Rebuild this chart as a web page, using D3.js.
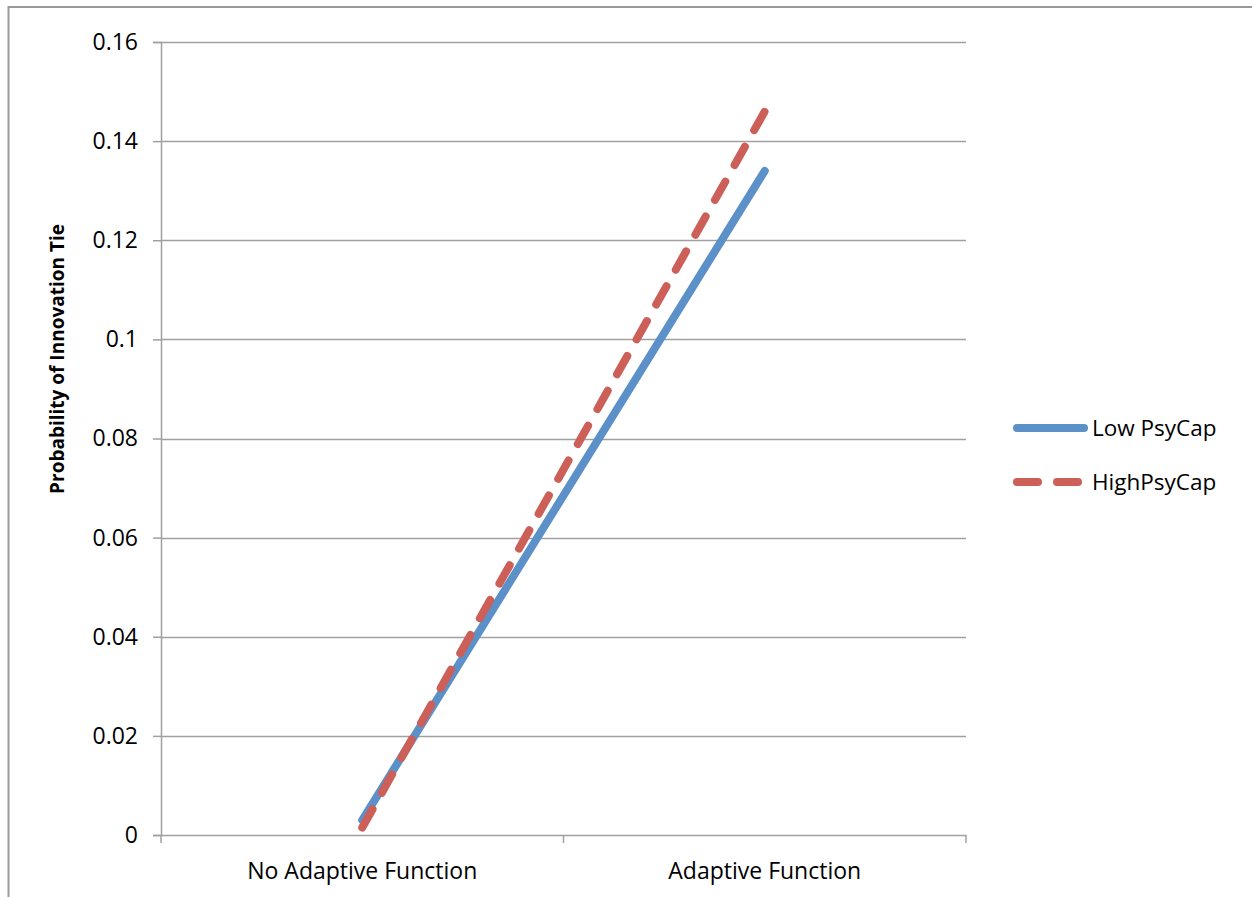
<!DOCTYPE html>
<html><head><meta charset="utf-8">
<script src="https://cdn.jsdelivr.net/npm/d3@7"></script>
<style>
html,body{margin:0;padding:0;background:#fff;}
text{font-family:"Open Sans","Liberation Sans",sans-serif;fill:#000;}
</style></head>
<body>
<svg id="chart" width="1252" height="897"></svg>
<script>
const categories = ["No Adaptive Function", "Adaptive Function"];
const lowPsyCap = [0.003, 0.134];
const highPsyCap = [0.0015, 0.146];
const seriesNames = ["Low PsyCap", "HighPsyCap"];
const yTicks = [0, 0.02, 0.04, 0.06, 0.08, 0.1, 0.12, 0.14, 0.16];

const svg = d3.select("#chart");
const mLeft = 161, mRight = 966, mTop = 42, mBottom = 835;

svg.append("rect").attr("x", 8.5).attr("y", 7).attr("width", 1300).attr("height", 1000)
  .attr("fill", "none").attr("stroke", "#999").attr("stroke-width", 2);

const x = d3.scaleBand().domain(categories).range([mLeft, mRight]);
const y = d3.scaleLinear().domain([0, 0.16]).range([mBottom, mTop]);

// gridlines
svg.append("g").selectAll("line").data(yTicks.slice(1)).join("line")
  .attr("x1", mLeft).attr("x2", mRight)
  .attr("y1", d => Math.round(y(d)) + 0.5).attr("y2", d => Math.round(y(d)) + 0.5)
  .attr("stroke", "#a0a0a0").attr("stroke-width", 1.5);

// y axis
const yAxis = svg.append("g").attr("transform", `translate(${mLeft},0)`)
  .call(d3.axisLeft(y).tickValues(yTicks).tickFormat(d => String(+d.toFixed(2))).tickSize(8).tickPadding(15));
yAxis.select(".domain").attr("stroke", "#a0a0a0").attr("stroke-width", 1.5);
yAxis.selectAll(".tick line").attr("stroke", "#a0a0a0").attr("stroke-width", 1.5);
yAxis.selectAll(".tick text").attr("font-size", 23).attr("font-family", "'Open Sans', sans-serif").attr("fill", "#000");

// x axis
const xAxis = svg.append("g").attr("transform", `translate(0,${mBottom})`)
  .call(d3.axisBottom(x).tickSize(0).tickPadding(28));
xAxis.select(".domain").attr("stroke", "#a0a0a0").attr("stroke-width", 1.5);
xAxis.selectAll(".tick text").attr("font-size", 23).attr("font-family", "'Open Sans', sans-serif").attr("fill", "#000");
// boundary ticks
const bounds = [mLeft, ...categories.map(c => x(c) + x.bandwidth())];
svg.append("g").selectAll("line").data(bounds).join("line")
  .attr("x1", d => d).attr("x2", d => d).attr("y1", mBottom).attr("y2", mBottom + 8)
  .attr("stroke", "#a0a0a0").attr("stroke-width", 1.5);

// y title
svg.append("text").attr("transform", "translate(64,359) rotate(-90)")
  .attr("text-anchor", "middle").attr("font-size", 19).attr("font-weight", "bold")
  .text("Probability of Innovation Tie");

const line = d3.line().x((d, i) => x(categories[i]) + x.bandwidth() / 2).y(d => y(d));

svg.append("path").datum(lowPsyCap).attr("d", line).attr("fill", "none")
  .attr("stroke", "#5b90c8").attr("stroke-width", 8).attr("stroke-linecap", "round");
svg.append("path").datum(highPsyCap).attr("d", line).attr("fill", "none")
  .attr("stroke", "#cc5f58").attr("stroke-width", 8).attr("stroke-linecap", "round")
  .attr("stroke-dasharray", "21,19");

// legend
const legend = [
  {name: seriesNames[0], color: "#5b90c8", dash: null, y: 428},
  {name: seriesNames[1], color: "#cc5f58", dash: "21,19", y: 482}
];
const lg = svg.append("g");
legend.forEach(l => {
  lg.append("line").attr("x1", 1017).attr("x2", 1084).attr("y1", l.y).attr("y2", l.y)
    .attr("stroke", l.color).attr("stroke-width", 8).attr("stroke-linecap", "round")
    .attr("stroke-dasharray", l.dash);
  lg.append("text").attr("x", 1092).attr("y", l.y).attr("dy", "0.35em")
    .attr("font-size", 22.5).text(l.name);
});
</script>
</body></html>
